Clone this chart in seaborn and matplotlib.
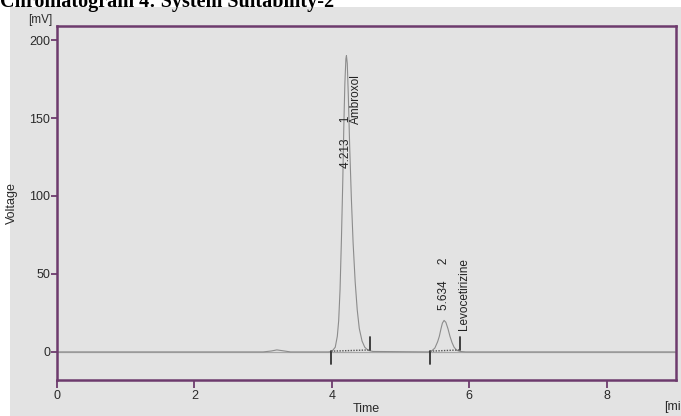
import matplotlib
matplotlib.use("Agg")
import matplotlib.pyplot as plt
from matplotlib.patches import Rectangle
import seaborn as sns
import pandas as pd

# trace (time in min, signal in mV)
trace_time = [0.0, 3.0, 3.12, 3.2, 3.28, 3.4, 3.95, 4.00, 4.05, 4.08, 4.10, 4.12,
              4.14, 4.16, 4.175, 4.19, 4.205, 4.213, 4.225, 4.24, 4.26, 4.285,
              4.31, 4.34, 4.37, 4.40, 4.44, 4.48, 4.53, 4.60, 5.40, 5.45, 5.50,
              5.54, 5.565, 5.59, 5.61, 5.634, 5.66, 5.69, 5.72, 5.75, 5.78,
              5.82, 5.87, 5.95, 9.0]
trace_mv = [0.0, 0.0, 0.6, 1.3, 0.8, 0.0, 0.0, 0.3, 3.0, 10, 20, 40,
            72, 110, 145, 172, 188, 190, 185, 165, 132, 98,
            70, 45, 27, 15, 7, 3, 1, 0.3, 0.0, 0.5, 2.5,
            6.5, 10, 15, 18.5, 20.2, 19, 15, 10, 6, 3,
            1, 0.3, 0.0, 0.0]

peak_rt = [4.213, 5.634]
peak_no = ["1", "2"]
peak_name = ["Ambroxol", "Levocetirizine"]
peak_start = [3.99, 5.43]
peak_end = [4.56, 5.87]

df = pd.DataFrame({"Time": trace_time, "Voltage": trace_mv})

sns.set_theme(style="white")
plt.rcParams["font.family"] = ["Liberation Sans", "DejaVu Sans"]

W, H = 681, 416
fig = plt.figure(figsize=(W / 100, H / 100), dpi=100, facecolor="white")
bg = "#e3e3e3"
fig.patches.append(Rectangle((10 / W, 0), 1, 1 - 7 / H, transform=fig.transFigure,
                             facecolor=bg, edgecolor="none", zorder=-5))

ax = fig.add_axes([57 / W, 1 - 380 / H, (676 - 57) / W, (380 - 26) / H])
ax.set_facecolor(bg)

ax.axhline(0, color="#a8a8a8", lw=0.9, zorder=1)
sns.lineplot(data=df, x="Time", y="Voltage", ax=ax, sort=False, estimator=None,
             color="#8c8c8c", lw=0.8, zorder=2)

# integration markers and baselines
for s, e in zip(peak_start, peak_end):
    ax.plot([s, s], [0.5, -7.5], color="#333333", lw=1.3)
    ax.plot([e, e], [1.3, 9.5], color="#333333", lw=1.3)
    ax.plot([s, e], [0.5, 1.3], color="#555555", lw=1.0, ls=(0, (1, 1)))

# peak labels
lab_base = [118, 27]
name_dx = [0.14, 0.29]
name_base = [146, 14]
for rt, no, nm, b, dx, nb in zip(peak_rt, peak_no, peak_name, lab_base, name_dx, name_base):
    ax.text(rt - 0.005, b, f"{rt:.3f}     {no}", rotation=90, ha="center", va="bottom",
            fontsize=8.5, color="#222222")
    ax.text(rt + dx, nb, nm, rotation=90, ha="center", va="bottom",
            fontsize=8.5, color="#222222")

ax.set_xlim(0, 9.01)
ax.set_ylim(-18, 209)
ax.set_xticks([0, 2, 4, 6, 8])
ax.set_yticks([0, 50, 100, 150, 200])
purple = "#6d3b6d"
for sp in ax.spines.values():
    sp.set_visible(True)
    sp.set_color(purple)
    sp.set_linewidth(1.8)
ax.tick_params(axis="both", labelcolor="#2a2a2a", labelsize=9, width=1.3,
               color=purple, bottom=True, left=True)
ax.tick_params(axis="x", direction="out", length=6, pad=1)
ax.tick_params(axis="y", direction="out", length=4, pad=1)

ax.set_xlabel("Time", fontsize=9, color="#2a2a2a")
ax.xaxis.set_label_coords(0.5, -0.065)
ax.set_ylabel("Voltage", fontsize=9, color="#2a2a2a")
ax.yaxis.set_label_coords(-0.063, 0.5)

fig.text(52 / W, 1 - 20 / H, "[mV]", ha="right", va="center", fontsize=8.5, color="#2a2a2a")
fig.text(664 / W, 1 - 407 / H, "[min]", ha="left", va="center", fontsize=9, color="#2a2a2a")

fig.text(0.0, 1 - 7 / H, "Chromatogram 4: System Suitability-2", ha="left", va="baseline",
         fontsize=14.5, fontweight="bold", family="Liberation Serif", color="black", zorder=5)

fig.savefig("out.png", dpi=100, facecolor="white")
